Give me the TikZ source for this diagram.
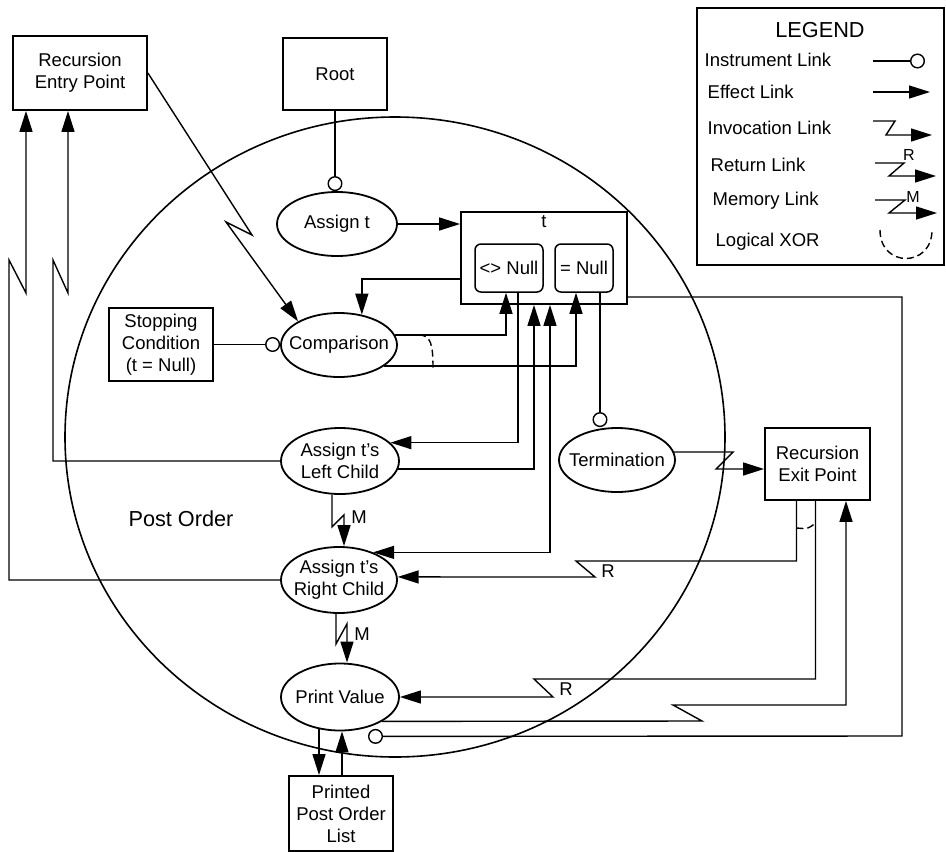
\documentclass[tikz,border=0pt]{standalone}
\usepackage{fontspec}
\setmainfont{Liberation Sans}
\usetikzlibrary{arrows.meta}
\usetikzlibrary{shapes.geometric}

\begin{document}
\begin{tikzpicture}[x=1pt, y=-1pt, line width=1.4pt,
    every node/.style={font=\fontsize{18.5}{22}\selectfont},
    >={Triangle[length=21pt,width=13pt]},
    box/.style={draw, line width=1.8pt, inner sep=0pt, align=center},
    proc/.style={draw, ellipse, line width=1.8pt, inner sep=0pt},
    instr/.style={-{Circle[length=15pt,fill=white]}},
    xor/.style={dash pattern=on 7pt off 4pt},
    legtext/.style={anchor=west, inner sep=0pt}]

    \useasboundingbox (0,0) rectangle (946,852);

    % process boundary
    \node[proc, line width=1.6pt, minimum width=660, minimum height=640] (po) at (395,437) {};
    \node[font=\fontsize{21.7}{26}\selectfont] (potxt) at (181,519) {Post Order};

    % objects and processes
    \node[box, minimum width=134, minimum height=74] (rep) at (80,73) {Recursion\\Entry Point};
    \node[box, minimum width=104, minimum height=72] (root) at (335,74) {Root};
    \node[proc, minimum width=120, minimum height=64, label=center:Assign t] (asgt) at (337,224) {};
    \node[box, minimum width=166, minimum height=92, label={[anchor=north, inner sep=4pt]north:t}] (tbox) at (544,258) {};
    \node[box, rounded corners=6pt, line width=1.5pt, minimum width=68, minimum height=48] (nn) at (509,268) {<> Null};
    \node[box, rounded corners=6pt, line width=1.5pt, minimum width=58, minimum height=48] (en) at (584,268) {= Null};
    \node[proc, minimum width=116, minimum height=64, label=center:Comparison] (cmp) at (339,345) {};
    \node[box, minimum width=104, minimum height=73] (stop) at (161,344.5) {Stopping\\Condition\\(t = Null)};
    \node[proc, minimum width=118, minimum height=66, label={[align=center]center:Assign t's\\Left Child}] (lc) at (340,461) {};
    \node[proc, minimum width=116, minimum height=66, label={[align=center]center:Assign t's\\Right Child}] (rc) at (339,580) {};
    \node[proc, minimum width=118, minimum height=67, label=center:Print Value] (pv) at (340,697) {};
    \node[box, minimum width=104, minimum height=75] (pol) at (341,813.5) {Printed\\Post Order\\List};
    \node[proc, minimum width=116, minimum height=64, label=center:Termination] (term) at (617,460) {};
    \node[box, minimum width=105, minimum height=72] (rxp) at (817.5,464) {Recursion\\Exit Point};

    % links
    \draw[instr] (root.south) -- (root.south |- asgt.north);
    \draw[->] (asgt.east) -- (asgt.east -| tbox.west);
    \draw[->] (tbox.west |- 0,279) -| (cmp.53);
    \draw[->] (rep.east) -- (252,235) -- (226,222) -- (cmp.150);
    \draw[instr] (stop.east) -- (stop.east -| cmp.west);
    \draw[->] (cmp.10) -| ([xshift=-3]nn.south);
    \draw[->] (cmp.335) -| ([xshift=-8]en.south);
    \draw[xor] (419,335) .. controls (431,335) and (433,345) .. (433,368);
    \draw[->] ([xshift=9]nn.south) |- (lc.20);
    \draw[->] (lc.352) -| ([xshift=-10]tbox.south);
    \draw[<->] (rc.39) -| ([xshift=6]tbox.south);
    \draw[instr] ([xshift=16]en.south) -- ([xshift=16]en.south |- term.north);
    \draw[->] (term.8) -- (733,452) -- (716,469) -- (rxp.west |- 0,469);

    \draw[->] ([xshift=-21]rxp.south) |- (576,561) -- (595,577) -- (rc.3);
    \node (r1) at (608,571) {R};
    \draw[->] ([xshift=-2]rxp.south) |- (534,679) -- (553,697) -- (pv.east);
    \node (r2) at (566,689) {R};
    \draw[xor] ([xshift=-21]rxp.south |- 0,528) .. controls (808,529) .. ([xshift=-2]rxp.south |- 0,523);
    \draw[->] (pv.330) -- (702,721) -- (673,705) -| ([xshift=28.5]rxp.south);
    \draw[instr] (tbox.east |- 0,297) -| (902,736) -- ([xshift=28,yshift=-5]pv.south);

    \draw[->] ([xshift=-21,yshift=2.5]pv.south) -- ([xshift=-22]pol.north);
    \draw[->] ([xshift=1]pol.north) -- ([xshift=2]pv.south);

    \draw[->] ([xshift=-8]lc.south) -- ++(0,32) -- ++(12,-12) -- ([xshift=5]rc.north);
    \node (m1) at (359,517) {M};
    \draw[->] ([xshift=-3]rc.south) -- ++(0,30) -- ++(11,-20) -- ([xshift=7]pv.north);
    \node (m2) at (362,634) {M};

    \draw[->] (lc.west) -- (53,461) -- (53,260) -- (68,293) -- ([xshift=-12]rep.south);
    \draw[->] (rc.west) -- (9,580) -- (9,260) -- (26,293) -- ([xshift=-54]rep.south);

    % legend
    \node[box, line width=1.5pt, minimum width=247, minimum height=257] (lgd) at (820.5,136.5) {};
    \node[font=\fontsize{21.7}{26}\selectfont] (lgdt) at (820,30) {LEGEND};
    \node[legtext] (li) at (704,60) {Instrument Link};
    \node[legtext] (le) at (707,92) {Effect Link};
    \node[legtext] (lv) at (707,128) {Invocation Link};
    \node[legtext] (lr) at (710,165) {Return Link};
    \node[legtext] (lm) at (712,201) {Memory Link};
    \node[legtext] (lx) at (715,242) {Logical XOR};
    \draw[instr] (873,61) -- (925,61);
    \draw[->] (873,92) -- (930,92);
    \draw[->] (873,121) -- (895,121) -- (886,135) -- (932,135);
    \draw[->] (875,163) -- (904,163) -- (889,176) -- (936,176);
    \node[font=\fontsize{16}{18}\selectfont] (lrr) at (909,155) {R};
    \draw[->] (875,200) -- (905,200) -- (889,213) -- (937,213);
    \node[font=\fontsize{16}{18}\selectfont] (lmm) at (913,197) {M};
    \draw[xor] (880,230) .. controls (880,268) and (932,268) .. (932,230);

\end{tikzpicture}
\end{document}
